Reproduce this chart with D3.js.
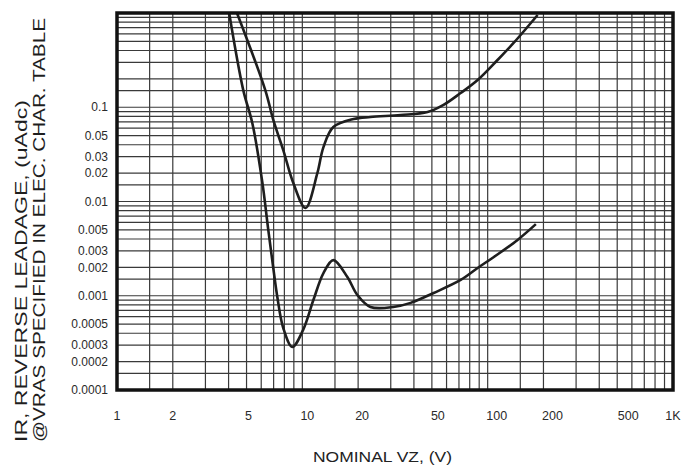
<!DOCTYPE html>
<html><head><meta charset="utf-8">
<script src="https://cdn.jsdelivr.net/npm/d3@7"></script>
<style>body{margin:0;background:#fff}svg{display:block}text{font-family:"Liberation Sans",Arial,sans-serif}</style>
</head><body><svg id="c" width="695" height="468"></svg>
<script>
// Data
const curveUpperX = [4.44, 6.31, 6.97, 7.89, 8.94, 10.4, 12.05, 13.0, 14.7, 18.9, 23.3, 33.9, 47.4, 57.8, 71.5, 88.3, 113, 138, 186];
const curveUpperY = [1.0, 0.152, 0.0733, 0.0351, 0.0157, 0.00853, 0.02, 0.0378, 0.0617, 0.075, 0.0789, 0.0828, 0.0891, 0.106, 0.1416, 0.1945, 0.317, 0.481, 0.953];
const curveLowerX = [4.03, 4.80, 5.37, 6.08, 6.55, 6.97, 7.33, 7.89, 8.83, 10.1, 11.47, 13.0, 14.7, 17.5, 19.8, 23.3, 31.0, 38.4, 51.1, 71.5, 88.3, 108, 145, 182];
const curveLowerY = [1.0, 0.152, 0.068, 0.0161, 0.00499, 0.00197, 0.00097, 0.000455, 0.000286, 0.000434, 0.0009, 0.00174, 0.00239, 0.00158, 0.00102, 0.00076, 0.00076, 0.00084, 0.00107, 0.00147, 0.00197, 0.00258, 0.00391, 0.00575];
const xTickValues = [1, 2, 5, 10, 20, 50, 100, 200, 500, 1000];
const xTickLabels = ["1", "2", "5", "10", "20", "50", "100", "200", "500", "1K"];
const yTickValues = [0.1, 0.05, 0.03, 0.02, 0.01, 0.005, 0.003, 0.002, 0.001, 0.0005, 0.0003, 0.0002, 0.0001];
const yTickLabels = ["0.1", "0.05", "0.03", "0.02", "0.01", "0.005", "0.003", "0.002", "0.001", "0.0005", "0.0003", "0.0002", "0.0001"];
const gridMantissas = [1, 1.5, 2, 3, 4, 5, 6, 7, 8, 9];

const svg = d3.select("#c");
const L = 117, R = 673, T = 13, B = 390;
const x = d3.scaleLog().domain([1, 1000]).range([L, R]);
const y = d3.scaleLog().domain([0.0001, 1]).range([B, T]);

const xGrid = [], yGrid = [];
[1, 10, 100].forEach(d => gridMantissas.forEach(m => xGrid.push(d * m)));
[0.0001, 0.001, 0.01, 0.1].forEach(d => gridMantissas.forEach(m => yGrid.push(d * m)));

const g = svg.append("g");
g.selectAll(".vg").data(xGrid).join("line")
  .attr("x1", d => x(d)).attr("x2", d => x(d)).attr("y1", T).attr("y2", B)
  .attr("stroke", "#3a3a3a").attr("stroke-width", 1.2);
g.selectAll(".hg").data(yGrid).join("line")
  .attr("y1", d => y(d)).attr("y2", d => y(d)).attr("x1", L).attr("x2", R)
  .attr("stroke", "#3a3a3a").attr("stroke-width", 1.2);

svg.append("clipPath").attr("id", "clip").append("rect")
  .attr("x", L).attr("y", T).attr("width", R - L).attr("height", B - T);

const line = d3.line().x(d => x(d[0])).y(d => y(d[1])).curve(d3.curveCatmullRom.alpha(0.5));
const upper = curveUpperX.map((v, i) => [v, curveUpperY[i]]);
const lower = curveLowerX.map((v, i) => [v, curveLowerY[i]]);
const cg = svg.append("g").attr("clip-path", "url(#clip)");
[upper, lower].forEach(data => {
  cg.append("path").attr("d", line(data)).attr("fill", "none")
    .attr("stroke", "#1e1e1e").attr("stroke-width", 2.6).attr("stroke-linejoin", "round");
});

svg.append("rect").attr("x", L).attr("y", T).attr("width", R - L).attr("height", B - T)
  .attr("fill", "none").attr("stroke", "#111").attr("stroke-width", 3.5);

// Tick labels
const xOff = [0, 0, 2, 5, 4, 6, 9, 9, 11, 0];
svg.selectAll(".xl").data(xTickValues).join("text")
  .attr("x", (d, i) => x(d) + xOff[i]).attr("y", 420)
  .attr("text-anchor", "middle").attr("font-size", 12.5).attr("fill", "#2a2a2a")
  .text((d, i) => xTickLabels[i]);
svg.selectAll(".yl").data(yTickValues).join("text")
  .attr("x", 108).attr("y", d => y(d)).attr("dy", "0.35em")
  .attr("text-anchor", "end").attr("font-size", 12).attr("fill", "#2a2a2a")
  .text((d, i) => yTickLabels[i]);

svg.append("text").attr("x", 313).attr("y", 462)
  .attr("font-size", 15.5).attr("fill", "#222")
  .attr("textLength", 139).attr("lengthAdjust", "spacingAndGlyphs")
  .text("NOMINAL VZ, (V)");

svg.append("text").attr("transform", "translate(27,442) rotate(-90)")
  .attr("font-size", 17).attr("fill", "#1e1e1e")
  .attr("textLength", 342).attr("lengthAdjust", "spacingAndGlyphs")
  .text("IR, REVERSE LEADAGE, (uAdc)");
svg.append("text").attr("transform", "translate(45,442) rotate(-90)")
  .attr("font-size", 17).attr("fill", "#1e1e1e")
  .attr("textLength", 424).attr("lengthAdjust", "spacingAndGlyphs")
  .text("@VRAS SPECIFIED IN ELEC. CHAR. TABLE");
</script></body></html>
